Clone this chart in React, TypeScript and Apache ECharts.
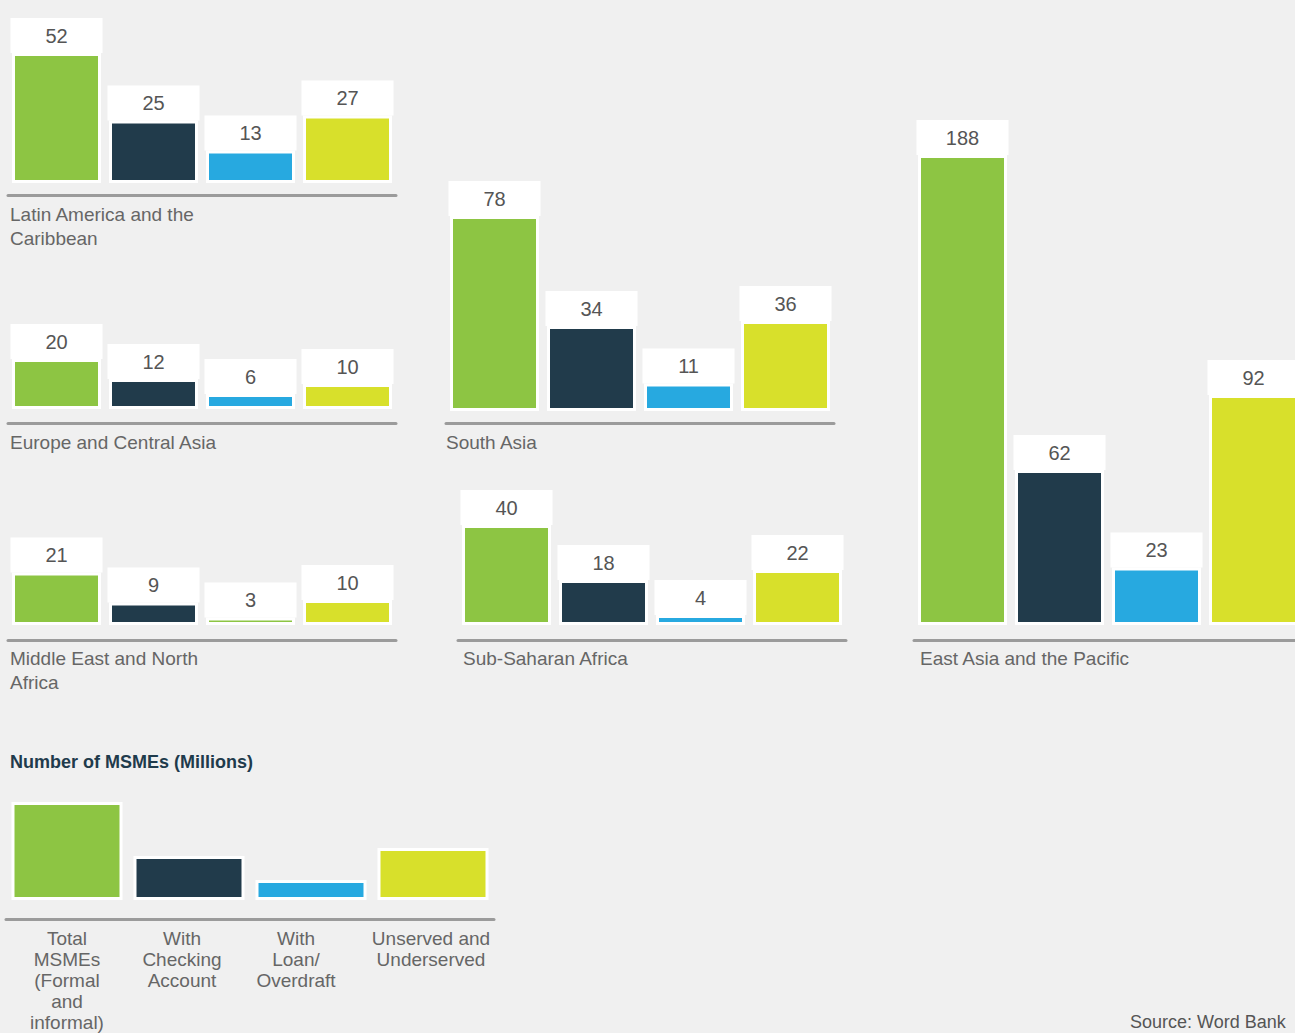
import React, { useEffect, useRef } from "react";
import * as echarts from "echarts";

// ---- Data ----
const categories = [
  "Total MSMEs (Formal and informal)",
  "With Checking Account",
  "With Loan/Overdraft",
  "Unserved and Underserved",
];
const legendAxisLabels = [
  "Total\nMSMEs\n(Formal\nand\ninformal)",
  "With\nChecking\nAccount",
  "With\nLoan/\nOverdraft",
  "Unserved and\nUnderserved",
];
const regionNames = [
  "Latin America and the\nCaribbean",
  "Europe and Central Asia",
  "Middle East and North\nAfrica",
  "South Asia",
  "Sub-Saharan Africa",
  "East Asia and the Pacific",
];
const latinAmerica = [52, 25, 13, 27];
const europeCentralAsia = [20, 12, 6, 10];
const middleEastNorthAfrica = [21, 9, 3, 10];
const southAsia = [78, 34, 11, 36];
const subSaharanAfrica = [40, 18, 4, 22];
const eastAsiaPacific = [188, 62, 23, 92];
const legendBarValues = [98, 44, 20, 52];

const GREEN = "#8dc543";
const NAVY = "#213b4b";
const BLUE = "#27a9e0";
const YELLOW = "#d8e02b";
const seriesColors = [GREEN, NAVY, BLUE, YELLOW];
// the reference draws the MENA loan bar in green
const menaColors = [GREEN, NAVY, GREEN, YELLOW];

const FONT = "Liberation Sans, Arial, sans-serif";
const PX_PER_UNIT = 2.5;

type Panel = {
  name: string;
  values: number[];
  colors: string[];
  left: number;
  baseline: number;
  axisY: number;
  titleLeft: number;
  titleTop: number;
  height: number;
};

const panels: Panel[] = [
  { name: regionNames[0], values: latinAmerica, colors: seriesColors, left: 8, baseline: 183, axisY: 195, titleLeft: 10, titleTop: 202, height: 170 },
  { name: regionNames[1], values: europeCentralAsia, colors: seriesColors, left: 8, baseline: 409, axisY: 423, titleLeft: 10, titleTop: 430, height: 120 },
  { name: regionNames[2], values: middleEastNorthAfrica, colors: menaColors, left: 8, baseline: 625, axisY: 640, titleLeft: 10, titleTop: 646, height: 120 },
  { name: regionNames[3], values: southAsia, colors: seriesColors, left: 446, baseline: 411, axisY: 423, titleLeft: 446, titleTop: 430, height: 220 },
  { name: regionNames[4], values: subSaharanAfrica, colors: seriesColors, left: 458, baseline: 625, axisY: 640, titleLeft: 463, titleTop: 646, height: 120 },
  { name: regionNames[5], values: eastAsiaPacific, colors: seriesColors, left: 914, baseline: 625, axisY: 640, titleLeft: 920, titleTop: 646, height: 480 },
];

// horizontal nudges of the key's category labels (reference is not perfectly centred)
const legendLabelPadRight = [0, 14, 30, 4];

function buildOption() {
  const grid: any[] = [];
  const xAxis: any[] = [];
  const yAxis: any[] = [];
  const series: any[] = [];
  const title: any[] = [];

  panels.forEach((p, i) => {
    grid.push({ left: p.left, top: p.baseline - p.height, width: 388, height: p.height });
    xAxis.push({
      type: "category",
      gridIndex: i,
      data: categories,
      offset: p.axisY - p.baseline,
      axisLine: { show: true, onZero: false, lineStyle: { color: "#9b9b9b", width: 3 } },
      axisTick: { show: false },
      axisLabel: { show: false },
      splitLine: { show: false },
    });
    yAxis.push({
      type: "value",
      gridIndex: i,
      min: 0,
      max: p.height / PX_PER_UNIT,
      show: false,
      splitLine: { show: false },
    });
    series.push({
      type: "bar",
      xAxisIndex: i,
      yAxisIndex: i,
      barWidth: 89,
      silent: true,
      data: p.values.map((v, j) => ({ value: v, itemStyle: { color: p.colors[j] } })),
      itemStyle: { borderColor: "#ffffff", borderWidth: 3 },
      label: {
        show: true,
        position: "top",
        distance: 0,
        backgroundColor: "#ffffff",
        width: 92,
        height: 35,
        lineHeight: 35,
        align: "center",
        fontSize: 20,
        fontFamily: FONT,
        color: "#555555",
      },
    });
    title.push({
      text: p.name,
      left: p.titleLeft,
      top: p.titleTop,
      padding: 0,
      textStyle: { fontSize: 19, fontWeight: "normal", color: "#666666", fontFamily: FONT, lineHeight: 24 },
    });
  });

  // legend / key panel
  const li = panels.length;
  grid.push({ left: 6, top: 900 - 120, width: 488, height: 120 });
  xAxis.push({
    type: "category",
    gridIndex: li,
    data: legendAxisLabels.map((t, j) => ({
      value: t,
      textStyle: { padding: [0, legendLabelPadRight[j], 0, 0] },
    })),
    offset: 19,
    axisLine: { show: true, onZero: false, lineStyle: { color: "#9b9b9b", width: 3 } },
    axisTick: { show: false },
    axisLabel: {
      show: true,
      interval: 0,
      margin: 9,
      fontSize: 19,
      lineHeight: 21,
      color: "#666666",
      fontFamily: FONT,
      align: "center",
    },
  });
  yAxis.push({ type: "value", gridIndex: li, min: 0, max: 120, show: false, splitLine: { show: false } });
  series.push({
    type: "bar",
    xAxisIndex: li,
    yAxisIndex: li,
    barWidth: 111,
    silent: true,
    data: legendBarValues.map((v, j) => ({ value: v, itemStyle: { color: seriesColors[j] } })),
    itemStyle: { borderColor: "#ffffff", borderWidth: 3 },
  });

  title.push({
    text: "Number of MSMEs (Millions)",
    left: 10,
    top: 752,
    padding: 0,
    textStyle: { fontSize: 18, fontWeight: "bold", color: "#1f3b4c", fontFamily: FONT, lineHeight: 20 },
  });
  title.push({
    text: "Source: Word Bank",
    left: 1130,
    top: 1012,
    padding: 0,
    textStyle: { fontSize: 18, fontWeight: "normal", color: "#555555", fontFamily: FONT, lineHeight: 20 },
  });

  return {
    animation: false,
    backgroundColor: "#f0f0f0",
    title,
    grid,
    xAxis,
    yAxis,
    series,
  };
}

export default function App() {
  const ref = useRef<HTMLDivElement>(null);
  useEffect(() => {
    if (!ref.current) return;
    const chart = echarts.init(ref.current, null, { renderer: "svg" });
    chart.setOption(buildOption() as any);
    return () => chart.dispose();
  }, []);
  return (
    <div style={{ position: "fixed", left: 0, top: 0, width: 1295, height: 1033, overflow: "hidden", background: "#f0f0f0" }}>
      <div ref={ref} style={{ position: "absolute", left: 0, top: 0, width: 1330, height: 1033 }} />
    </div>
  );
}
